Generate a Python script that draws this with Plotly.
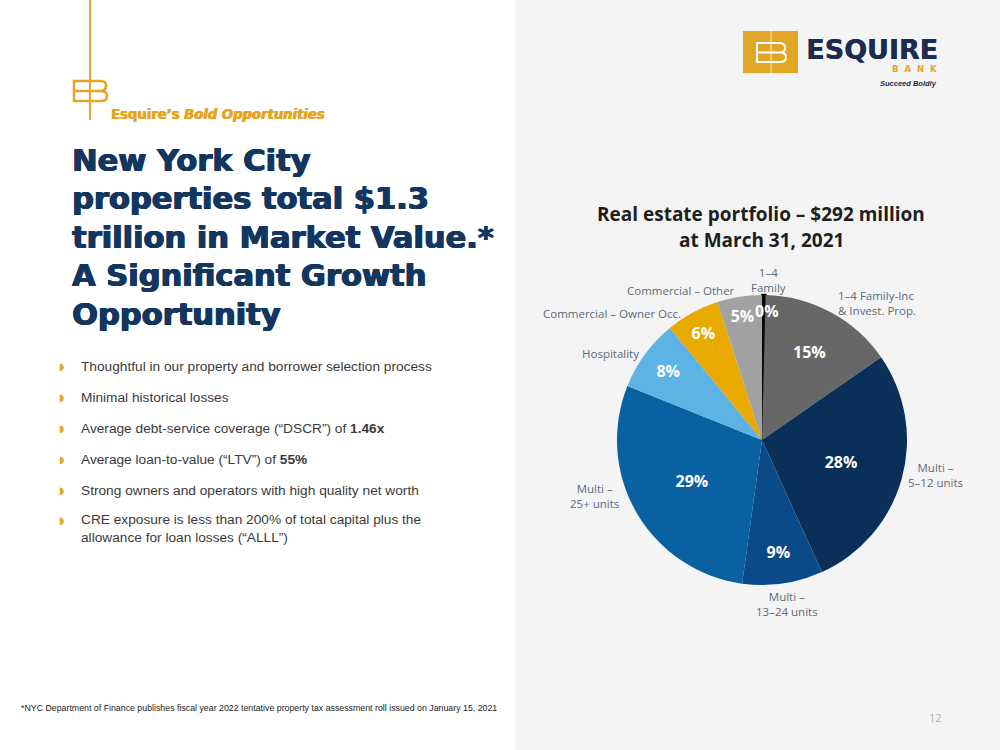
import plotly.graph_objects as go

# ---------------- data ----------------
categories = ["1–4 Family", "1–4 Family-Inc & Invest. Prop.", "Multi – 5–12 units",
              "Multi – 13–24 units", "Multi – 25+ units", "Hospitality",
              "Commercial – Owner Occ.", "Commercial – Other"]
values = [0.4, 15, 28, 9, 29, 8, 6, 5]
colors = ["#0a0a0a", "#676767", "#0a2f58", "#0b4a88", "#0a61a1", "#5db4e4", "#e8a900", "#a2a2a2"]
outside_labels = ["1–4<br>Family", "1–4 Family-Inc<br>& Invest. Prop.", "Multi –<br>5–12 units",
                  "Multi –<br>13–24 units", "Multi –<br>25+ units", "Hospitality",
                  "Commercial – Owner Occ.", "Commercial – Other"]
bullets = ["Thoughtful in our property and borrower selection process",
           "Minimal historical losses",
           "Average debt-service coverage (“DSCR”) of <b>1.46x</b>",
           "Average loan-to-value (“LTV”) of <b>55%</b>",
           "Strong owners and operators with high quality net worth",
           "CRE exposure is less than 200% of total capital plus the<br>allowance for loan losses (“ALLL”)"]
title_lines = ["New York City", "properties total $1.3", "trillion in Market Value.*",
               "A Significant Growth", "Opportunity"]

W, H = 1000, 750
def X(px): return px / W
def Y(py): return 1 - py / H

GOLD = "#e6a521"
NAVY = "#13365f"
LABEL = "#5d6a7a"

fig = go.Figure()

# pie
cx, cy, r = 762, 440, 145
fig.add_trace(go.Pie(
    labels=categories, values=values, sort=False, direction="clockwise", rotation=0,
    marker=dict(colors=colors, line=dict(color=["#0a0a0a"] + ["rgba(0,0,0,0)"] * 7,
                                         width=[2.5] + [0] * 7)),
    texttemplate="%{value:.0f}%",
    textposition=["none"] + ["inside"] * 7,
    insidetextorientation="horizontal",
    textfont=dict(family="Open Sans", size=16, color="white", weight="bold"),
    hoverinfo="skip", showlegend=False,
    domain=dict(x=[X(cx - r), X(cx + r)], y=[Y(cy + r), Y(cy - r)]),
))

shapes = []
shapes.append(dict(type="rect", xref="paper", yref="paper", x0=X(515), x1=1, y0=0, y1=1,
                   fillcolor="#f4f4f4", line=dict(width=0), layer="below"))
shapes.append(dict(type="line", xref="paper", yref="paper", x0=X(90), x1=X(90), y0=Y(0), y1=Y(120),
                   line=dict(color=GOLD, width=2)))
def P(x, y): return f"{X(x):.4f},{Y(y):.4f}"
shapes.append(dict(type="path", xref="paper", yref="paper",
                   path=f"M{P(90,81)} L{P(74,81)} L{P(74,101)} L{P(90,101)} M{P(74,91)} L{P(90,91)}",
                   line=dict(color=GOLD, width=2.5)))
shapes.append(dict(type="path", xref="paper", yref="paper",
                   path=f"M{P(90,81)} L{P(101,81)} Q{P(106,81)} {P(106,86)} Q{P(106,91)} {P(100,91)} "
                        f"Q{P(107,91)} {P(107,96)} Q{P(107,101)} {P(101,101)} L{P(90,101)} M{P(90,91)} L{P(100,91)}",
                   line=dict(color=GOLD, width=2.5)))
shapes.append(dict(type="rect", xref="paper", yref="paper", x0=X(743), x1=X(798), y0=Y(73), y1=Y(31),
                   fillcolor="#e1a626", line=dict(width=0)))
shapes.append(dict(type="line", xref="paper", yref="paper", x0=X(771), x1=X(771), y0=Y(73), y1=Y(31),
                   line=dict(color="#f3d77a", width=1.5)))
shapes.append(dict(type="path", xref="paper", yref="paper",
                   path=f"M{P(771,43)} L{P(757,43)} L{P(757,62)} L{P(771,62)} M{P(757,52.5)} L{P(771,52.5)}",
                   line=dict(color="white", width=2)))
shapes.append(dict(type="path", xref="paper", yref="paper",
                   path=f"M{P(771,43)} L{P(780,43)} Q{P(785,43)} {P(785,48)} Q{P(785,52.5)} {P(780,52.5)} "
                        f"Q{P(786,52.5)} {P(786,57)} Q{P(786,62)} {P(780,62)} L{P(771,62)} M{P(771,52.5)} L{P(780,52.5)}",
                   line=dict(color="white", width=2)))

ann = []
def A(text, x, y, size, color, family="Liberation Sans", xanchor="left", yanchor="middle", align="left", **kw):
    ann.append(dict(text=text, x=X(x), y=Y(y), xref="paper", yref="paper", showarrow=False,
                    xanchor=xanchor, yanchor=yanchor, align=align,
                    font=dict(size=size, color=color, family=family, **kw)))

thick_gold = f"0.5px 0 0 {GOLD}, -0.3px 0 0 {GOLD}"
thick_navy = f"0.8px 0 0 {NAVY}, -0.6px 0 0 {NAVY}, 0 0.4px 0 {NAVY}"

A("<b>Esquire’s <i>Bold Opportunities</i></b>", 109, 115, 13.2, GOLD, family="DejaVu Sans", shadow=thick_gold)
for i, line in enumerate(title_lines):
    A("<b>" + line + "</b>", 70, 160 + i * 38.5, 30.5, NAVY, family="DejaVu Sans", shadow=thick_navy)
by = [366, 397, 428, 459, 490, 528]
for t, yy in zip(bullets, by):
    A("◗", 57, (yy if "<br>" not in t else yy - 8), 10, GOLD, family="DejaVu Sans")
    A(t, 79, yy, 13.7, "#3a3a3a")
A("*NYC Department of Finance publishes fiscal year 2022 tentative property tax assessment roll issued on January 15, 2021",
  19, 708, 8.8, "#222222", family="Liberation Sans")
A("12", 935, 717, 11, "#b0b0b0", family="Open Sans", xanchor="center")
A("<b>ESQUIRE</b>", 804, 50, 27, "#1c2c4e", family="DejaVu Sans", shadow="0.5px 0 0 #1c2c4e")
A("<b>B  A  N  K</b>", 939, 69, 8.5, GOLD, family="DejaVu Sans", xanchor="right")
A("<b><i>Succeed Boldly</i></b>", 939, 84, 7.5, "#1c2c4e", family="Liberation Sans", xanchor="right")
A("<b>Real estate portfolio – $292 million</b>", 761, 214, 19, "#1e1e1e", family="Open Sans", xanchor="center")
A("<b>at March 31, 2021</b>", 761, 240, 19, "#1e1e1e", family="Open Sans", xanchor="center")
A("<b>%.0f%%</b>" % values[0], 767, 311, 16, "white", family="Open Sans", xanchor="center")

lab_pos = [(768, 280, "center"), (836, 303, "left"), (935, 475, "center"), (787, 604, "center"),
           (594, 496, "center"), (641, 353, "right"), (683, 313, "right"), (737, 290, "right")]
for t, (x, y, anc) in zip(outside_labels, lab_pos):
    A(t, x, y, 11.5, LABEL, family="Open Sans", xanchor=anc, align="center" if anc == "center" else anc)

fig.update_layout(width=W, height=H, margin=dict(l=0, r=0, t=0, b=0),
                  paper_bgcolor="white", plot_bgcolor="white",
                  shapes=shapes, annotations=ann, showlegend=False)
fig.write_html("out.html")
